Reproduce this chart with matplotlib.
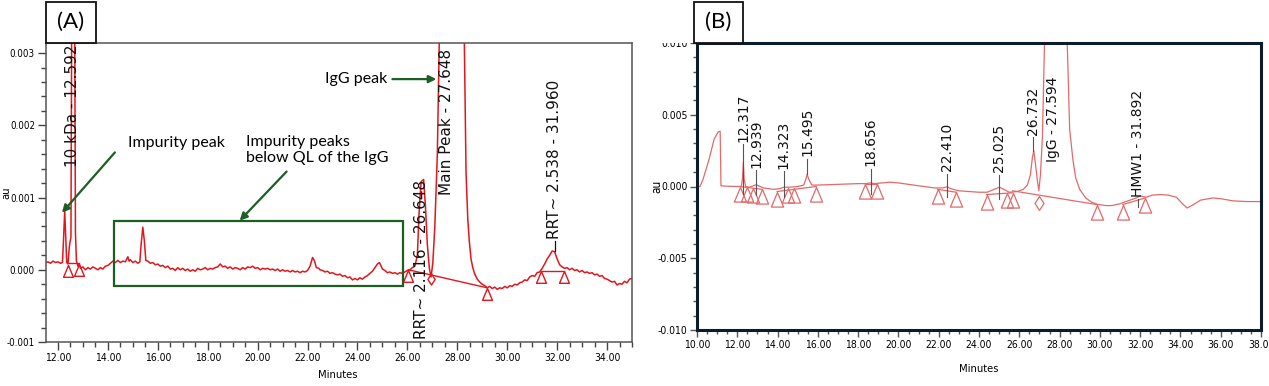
import numpy as np
import matplotlib.pyplot as plt
from matplotlib.patches import Rectangle
from matplotlib.ticker import MultipleLocator, FormatStrFormatter

W, H = 1269, 386

# ---------------- (A) data, minutes vs mAU ----------------
trace_a = [
    (11.52, 0.10), (11.6, 0.11), (11.7, 0.09), (11.8, 0.12), (11.9, 0.10), (12.0, 0.11),
    (12.1, 0.09), (12.18, 0.10), (12.22, 0.40), (12.27, 0.82), (12.31, 0.45), (12.35, 0.10),
    (12.4, 0.08), (12.45, 0.30), (12.48, 0.38), (12.52, 0.45), (12.55, 3.5), (12.63, 6.0),
    (12.67, 3.5), (12.7, 0.5), (12.74, 0.12), (12.8, 0.05), (12.85, 0.08), (12.9, 0.02),
    (13.0, 0.04), (13.1, 0.00), (13.2, 0.03), (13.3, 0.01), (13.4, 0.04), (13.5, 0.02),
    (13.6, 0.00), (13.7, 0.03), (13.8, 0.01), (13.9, 0.05), (14.0, 0.06), (14.1, 0.09),
    (14.2, 0.12), (14.3, 0.10), (14.4, 0.13), (14.5, 0.10), (14.6, 0.12), (14.7, 0.11),
    (14.8, 0.18), (14.85, 0.12), (14.9, 0.14), (15.0, 0.10), (15.1, 0.12), (15.2, 0.09),
    (15.28, 0.11), (15.33, 0.35), (15.4, 0.59), (15.46, 0.40), (15.52, 0.13), (15.6, 0.12),
    (15.7, 0.09), (15.8, 0.10), (15.9, 0.07), (16.0, 0.08), (16.1, 0.05), (16.2, 0.06),
    (16.3, 0.03), (16.4, 0.05), (16.5, 0.01), (16.6, 0.02), (16.7, -0.01), (16.8, 0.03),
    (16.9, 0.00), (17.0, 0.02), (17.1, -0.01), (17.2, 0.01), (17.3, -0.02), (17.4, 0.00),
    (17.5, -0.02), (17.6, 0.02), (17.7, 0.00), (17.8, 0.01), (17.9, 0.03), (18.0, 0.00),
    (18.1, 0.02), (18.2, 0.01), (18.3, 0.03), (18.4, 0.04), (18.5, 0.08), (18.55, 0.06),
    (18.6, 0.04), (18.7, 0.05), (18.8, 0.02), (18.9, 0.04), (19.0, 0.01), (19.1, 0.03),
    (19.2, 0.02), (19.3, 0.00), (19.4, 0.03), (19.5, 0.01), (19.6, 0.04), (19.7, 0.03),
    (19.8, 0.05), (19.9, 0.02), (20.0, 0.03), (20.1, 0.00), (20.2, 0.02), (20.3, 0.01),
    (20.4, 0.02), (20.5, 0.00), (20.6, 0.01), (20.7, -0.01), (20.8, 0.01), (20.9, -0.02),
    (21.0, 0.00), (21.1, -0.02), (21.2, -0.01), (21.3, -0.03), (21.4, -0.01), (21.5, -0.03),
    (21.6, -0.02), (21.7, -0.04), (21.8, -0.02), (21.9, -0.03), (22.0, -0.01), (22.1, 0.05),
    (22.2, 0.17), (22.28, 0.12), (22.35, 0.03), (22.45, 0.02), (22.5, 0.00), (22.6, -0.01),
    (22.7, -0.03), (22.8, -0.02), (22.9, -0.05), (23.0, -0.04), (23.1, -0.06), (23.2, -0.07),
    (23.3, -0.06), (23.4, -0.09), (23.5, -0.08), (23.6, -0.11), (23.7, -0.10), (23.8, -0.14),
    (23.9, -0.12), (24.0, -0.14), (24.1, -0.11), (24.2, -0.13), (24.3, -0.10), (24.4, -0.08),
    (24.5, -0.05), (24.6, -0.02), (24.7, 0.03), (24.8, 0.08), (24.88, 0.10), (24.95, 0.05),
    (25.0, 0.01), (25.1, -0.01), (25.2, -0.04), (25.3, -0.03), (25.4, -0.05), (25.5, -0.04),
    (25.6, -0.06), (25.7, -0.04), (25.8, -0.05), (25.9, -0.03), (26.0, -0.01), (26.1, 0.00),
    (26.2, 0.03), (26.3, 0.05), (26.4, 0.20), (26.47, 0.80), (26.55, 1.22), (26.65, 1.25),
    (26.72, 0.90), (26.8, 0.35), (26.88, 0.02), (26.95, -0.10), (27.02, 0.10), (27.1, 0.60),
    (27.2, 1.60), (27.28, 3.20), (27.4, 10.0), (27.65, 25.0), (27.9, 15.0), (28.15, 6.0),
    (28.28, 3.2), (28.35, 1.35), (28.42, 0.70), (28.48, 0.40), (28.55, 0.15), (28.62, 0.03),
    (28.7, -0.06), (28.8, -0.13), (28.9, -0.17), (29.0, -0.20), (29.1, -0.22), (29.2, -0.25),
    (29.3, -0.23), (29.4, -0.26), (29.5, -0.24), (29.6, -0.27), (29.7, -0.25), (29.8, -0.26),
    (29.9, -0.23), (30.0, -0.25), (30.1, -0.22), (30.2, -0.23), (30.3, -0.20), (30.4, -0.21),
    (30.5, -0.18), (30.6, -0.17), (30.7, -0.14), (30.8, -0.15), (30.9, -0.10), (31.0, -0.08),
    (31.1, -0.09), (31.2, -0.04), (31.3, -0.03), (31.4, 0.02), (31.5, 0.08), (31.6, 0.15),
    (31.7, 0.20), (31.8, 0.26), (31.9, 0.25), (32.0, 0.15), (32.1, 0.07), (32.2, 0.04),
    (32.3, 0.02), (32.4, 0.03), (32.5, 0.00), (32.6, 0.02), (32.7, -0.01), (32.8, 0.00),
    (32.9, -0.03), (33.0, -0.01), (33.1, -0.04), (33.2, -0.03), (33.3, -0.05), (33.4, -0.04),
    (33.5, -0.07), (33.6, -0.06), (33.7, -0.09), (33.8, -0.08), (33.9, -0.12), (34.0, -0.13),
    (34.1, -0.15), (34.2, -0.17), (34.3, -0.16), (34.4, -0.21), (34.5, -0.19), (34.6, -0.20),
    (34.7, -0.16), (34.8, -0.18), (34.9, -0.13), (35.0, -0.12),
]
tri_a_t = [12.40, 12.85, 26.04, 29.20, 31.35, 32.28]
tri_a_v = [0.06, 0.08, 0.00, -0.25, -0.01, -0.01]
dia_a_t = [26.95]
dia_a_v = [-0.13]
base_a = [[(12.40, 0.09), (12.85, 0.09)],
          [(26.04, 0.00), (29.20, -0.25)],
          [(31.35, -0.01), (32.28, -0.01)]]
lab_a = ["10 kDa - 12.592", "Main Peak - 27.648", "RRT~ 2.538 - 31.960", "RRT~ 2.116 - 26.648"]
lab_a_t = [12.57, 27.56, 31.90, 26.57]
lab_a_v = [1.42, 1.03, 0.43, -0.96]

# ---------------- (B) data ----------------
t_b = [10.0, 10.15, 10.3, 10.6, 10.85, 11.05, 11.15, 11.19, 11.5, 12.0, 12.2, 12.26, 12.3,
       12.34, 12.42, 12.6, 12.85, 12.94, 13.05, 13.3, 13.8, 14.1, 14.3, 14.6, 15.0, 15.3,
       15.4, 15.47, 15.55, 15.7, 16.0, 17.0, 18.0, 18.4, 18.6, 18.8, 19.6, 20.0, 21.0, 21.8,
       22.2, 22.4, 22.6, 23.0, 23.5, 24.0, 24.4, 24.75, 25.02, 25.3, 25.5, 25.9, 26.2, 26.4,
       26.55, 26.65, 26.72, 26.8, 26.9, 26.97, 27.05, 27.15, 27.26, 27.45, 27.62, 27.85,
       28.1, 28.37, 28.5, 28.66, 28.8, 29.0, 29.3, 29.6, 29.9, 30.3, 30.6, 31.0, 31.4, 31.8,
       32.0, 32.3, 32.6, 33.0, 33.4, 33.8, 34.1, 34.33, 34.6, 35.0, 35.6, 36.0, 36.6, 37.3, 38.0]
mau_b = [0.0, 0.0, 0.5, 1.9, 3.3, 3.8, 3.85, 0.05, 0.02, 0.0, 0.0, 0.6, 1.7,
         0.5, 0.0, -0.05, 0.08, 0.12, 0.05, -0.1, -0.2, -0.15, -0.05, -0.05, 0.0, 0.1,
         0.5, 0.85, 0.5, 0.1, 0.1, 0.15, 0.2, 0.2, 0.25, 0.2, 0.3, 0.25, 0.05, -0.1,
         -0.1, -0.02, -0.15, -0.3, -0.35, -0.4, -0.4, -0.2, -0.05, -0.25, -0.4, -0.35, -0.2, 0.1,
         0.8, 2.0, 2.5, 1.6, 0.4, -0.3, 0.8, 3.5, 10.5, 30.0, 42.0, 30.0,
         18.0, 10.5, 4.0, 1.9, 0.6, -0.2, -0.8, -1.1, -1.25, -1.33, -1.33, -1.2, -1.0, -0.8,
         -0.65, -0.75, -0.6, -0.56, -0.6, -0.75, -1.2, -1.5, -1.3, -0.95, -0.8, -0.85, -1.0, -1.05, -1.05]
tri_b_t = [12.14, 12.49, 12.79, 13.24, 13.98, 14.53, 14.83, 15.92, 18.36, 18.96, 21.94, 22.88,
           24.38, 25.37, 25.67, 29.85, 31.14, 32.24]
tri_b_v = [0.0, 0.0, -0.1, -0.2, -0.35, -0.1, -0.1, 0.0, 0.15, 0.15, -0.2, -0.4,
           -0.56, -0.44, -0.44, -1.26, -1.26, -0.8]
dia_b_t = [26.97]
dia_b_v = [-1.12]
base_b = [[(12.14, 0.0), (13.24, -0.2)], [(13.98, -0.35), (15.92, 0.0)],
          [(18.36, 0.15), (18.96, 0.15)], [(21.94, -0.2), (22.88, -0.4)],
          [(24.38, -0.56), (25.67, -0.44)], [(25.67, -0.3), (29.85, -1.26)],
          [(31.14, -1.26), (32.24, -0.8)]]
lab_b = ["12.317", "12.939", "14.323", "15.495", "18.656", "22.410", "25.025", "26.732",
         "IgG - 27.594", "HMW1 - 31.892"]
lab_b_t = [12.30, 12.94, 14.30, 15.48, 18.62, 22.40, 25.00, 26.70, 27.66, 31.89]
lab_b_v = [3.1, 1.3, 1.2, 2.1, 1.4, 1.05, 0.98, 3.6, 1.7, -0.7]
drop_b_lo = [-0.5, -0.6, -0.7, 0.85, -0.55, -0.75, -0.85, 2.5, np.nan, -1.45]

t_a, mau_a = np.array(trace_a).T

red_a = '#e3161c'
red_b = '#e26a6a'
green = '#1d5e24'
# triangle with apex on the point, diamond centred
tri_mk = [(0, 0), (-0.42, -1), (0.42, -1), (0, 0)]
dia_mk = [(0, 1), (0.65, 0), (0, -1), (-0.65, 0), (0, 1)]

# axis numbers in a condensed face when one is there
plt.rcParams['font.family'] = 'DejaVu Sans'
plt.rcParams['font.stretch'] = 'condensed'


def fbox(x0, y0, x1, y1):
    return [x0 / W, 1 - y1 / H, (x1 - x0) / W, (y1 - y0) / H]


fig = plt.figure(figsize=(W / 100, H / 100), dpi=100)

# ---------------- panel A ----------------
ax = fig.add_axes(fbox(46, 43, 632, 342))
ax.plot(t_a, mau_a * 1e-3, color=red_a, lw=1.1)
for seg in base_a:
    st, sv = zip(*seg)
    ax.plot(st, np.array(sv) * 1e-3, color=red_a, lw=1.0)
ax.plot(tri_a_t, np.array(tri_a_v) * 1e-3, ls='none', marker=tri_mk, ms=17, mfc='none',
        mec=red_a, mew=1.0)
ax.plot(dia_a_t, np.array(dia_a_v) * 1e-3, ls='none', marker=dia_mk, ms=8, mfc='none',
        mec=red_a, mew=1.0)
for txt, t, v in zip(lab_a, lab_a_t, lab_a_v):
    ax.text(t, v * 1e-3, txt, rotation=90, rotation_mode='anchor', ha='left', va='center',
            fontsize=11, fontstretch='normal', color='#111111')
ax.plot([31.92, 31.92], [0.40e-3, 0.26e-3], color='#111111', lw=0.9)

ax.add_patch(Rectangle((14.24, -0.22e-3), 25.81 - 14.24, 0.89e-3, fill=False,
                       ec=green, lw=1.6, zorder=3))
ann = dict(arrowstyle='-|>', color=green, lw=1.6, mutation_scale=11, shrinkA=0, shrinkB=0)
ax.annotate('', xy=(12.16, 0.79e-3), xytext=(14.28, 1.625e-3), arrowprops=ann)
ax.annotate('', xy=(19.28, 0.68e-3), xytext=(21.16, 1.36e-3), arrowprops=ann)
ax.annotate('', xy=(27.16, 2.64e-3), xytext=(25.4, 2.64e-3), arrowprops=ann)
note = dict(fontsize=11.5, family='Lato', fontstretch='normal')
ax.text(14.8, 1.75e-3, 'Impurity peak', ha='left', va='center', **note)
ax.text(19.52, 1.655e-3, 'Impurity peaks\nbelow QL of the IgG', ha='left', va='center',
        linespacing=1.2, **note)
ax.text(25.2, 2.64e-3, 'IgG peak', ha='right', va='center', **note)

ax.set_xlim(11.52, 35.0)
ax.set_ylim(-0.001, 0.00314)
ax.xaxis.set_major_locator(MultipleLocator(2))
ax.xaxis.set_minor_locator(MultipleLocator(0.5))
ax.yaxis.set_major_locator(MultipleLocator(0.001))
ax.yaxis.set_minor_locator(MultipleLocator(0.0002))
ax.xaxis.set_major_formatter(FormatStrFormatter('%.2f'))
ax.yaxis.set_major_formatter(FormatStrFormatter('%.3f'))
ax.tick_params(which='major', length=6, width=1, color='#444444', labelsize=7, pad=2)
ax.tick_params(axis='x', which='major', labelsize=7.5)
ax.tick_params(which='minor', length=3.5, width=1, color='#444444')
for s in ax.spines.values():
    s.set_color('#555555')
    s.set_linewidth(1.1)
ax.set_xlabel('Minutes', fontsize=8)
ax.set_ylabel('au', fontsize=8)
ax.xaxis.set_label_coords(0.498, -0.095)
ax.yaxis.set_label_coords(-0.059, 0.5)

# ---------------- panel B ----------------
bx = fig.add_axes(fbox(697, 43, 1261, 330))
bx.plot(t_b, np.array(mau_b) * 1e-3, color=red_b, lw=0.9)
for seg in base_b:
    st, sv = zip(*seg)
    bx.plot(st, np.array(sv) * 1e-3, color=red_b, lw=0.9)
bx.plot(tri_b_t, np.array(tri_b_v) * 1e-3, ls='none', marker=tri_mk, ms=21, mfc='none',
        mec=red_b, mew=0.9)
bx.plot(dia_b_t, np.array(dia_b_v) * 1e-3, ls='none', marker=dia_mk, ms=10, mfc='none',
        mec=red_b, mew=0.9)
for txt, t, v, lo in zip(lab_b, lab_b_t, lab_b_v, drop_b_lo):
    bx.text(t, v * 1e-3, txt, rotation=90, rotation_mode='anchor', ha='left', va='center',
            fontsize=10, fontstretch='normal', color='#111111')
    if not np.isnan(lo):
        bx.plot([t, t], [(v - 0.15) * 1e-3, lo * 1e-3], color='#555555', lw=0.8)

bx.set_xlim(10, 38)
bx.set_ylim(-0.010, 0.010)
bx.xaxis.set_major_locator(MultipleLocator(2))
bx.xaxis.set_minor_locator(MultipleLocator(0.5))
bx.yaxis.set_major_locator(MultipleLocator(0.005))
bx.yaxis.set_minor_locator(MultipleLocator(0.001))
bx.xaxis.set_major_formatter(FormatStrFormatter('%.2f'))
bx.yaxis.set_major_formatter(FormatStrFormatter('%.3f'))
bx.tick_params(which='major', length=5, width=1, color='#555555', labelsize=7.5, pad=2)
bx.tick_params(which='minor', length=3, width=1, color='#555555')
for s in bx.spines.values():
    s.set_color('#0d1c2a')
    s.set_linewidth(2.2)
bx.set_xlabel('Minutes', fontsize=8)
bx.set_ylabel('au', fontsize=8.5)
bx.xaxis.set_label_coords(0.5, -0.12)
bx.yaxis.set_label_coords(-0.060, 0.5)

# panel tags and the cropped top of panel B's axis label column
for x0, x1, tag in [(46, 96, '(A)'), (694, 743, '(B)')]:
    fig.add_artist(Rectangle((x0 / W, 1 - 43 / H), (x1 - x0) / W, 41 / H,
                             transform=fig.transFigure, fc='white', ec='#111111', lw=1.3,
                             zorder=5))
    fig.text((x0 + x1) / 2 / W, 1 - 22 / H, tag, ha='center', va='center', fontsize=16,
             family='Lato', fontstretch='normal', zorder=6)
fig.add_artist(Rectangle((655 / W, 1 - 43 / H), 38 / W, 43 / H, transform=fig.transFigure,
                         fc='white', ec='none', zorder=5))

fig.savefig('out.png', dpi=100)
